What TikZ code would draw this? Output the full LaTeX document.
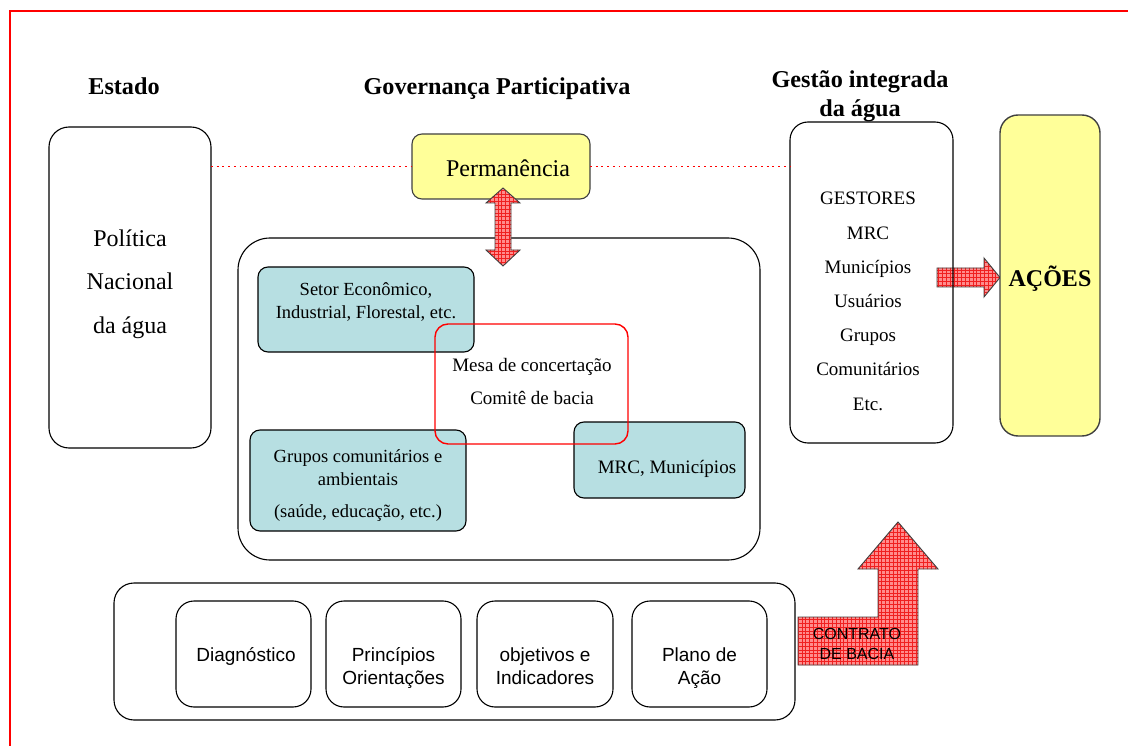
\documentclass[tikz,border=0pt]{standalone}
\usepackage{fontspec}
\setmainfont{Liberation Serif}
\setsansfont{Liberation Sans}
\definecolor{paleyellow}{HTML}{FFFF99}
\definecolor{palecyan}{HTML}{B7DFE2}
\definecolor{arrowpink}{HTML}{FF8C8C}
\definecolor{gridred}{HTML}{F02020}
\definecolor{edgegray}{HTML}{404040}

% block arrow filled with a fine red check pattern
\newcommand{\checkedshape}[1]{%
  \begin{scope}
    \clip #1;
    \fill[arrowpink] #1;
    \draw[gridred, line width=0.3pt, step=3.8pt] (0,0) grid (1128,746);
  \end{scope}
  \draw[edgegray, line width=0.9pt, line join=miter] #1;}

\begin{document}
\begin{tikzpicture}[x=1pt, y=-1pt,
  every node/.style={inner sep=0pt, outer sep=0pt},
  panel/.style={draw=black, line width=1.1pt, rounded corners=#1},
  panel/.default=10pt,
  yellowpanel/.style={panel=#1, fill=paleyellow, draw=edgegray},
  yellowpanel/.default=10pt,
  cyanpanel/.style={panel=10pt, fill=palecyan},
  headfont/.style={font=\fontsize{24.2}{29}\selectfont\bfseries, anchor=base, align=center},
  bodyfont/.style={font=\fontsize{#1}{#1}\selectfont, anchor=base, align=center},
  sansfont/.style={font=\sffamily\fontsize{19}{23}\selectfont, anchor=base, align=center},
  linkdots/.style={red, line width=1.9pt, dash pattern=on 1.9pt off 3.8pt}]

\useasboundingbox (0,0) rectangle (1128,746);

% page frame
\draw[red, line width=2.6pt] (10,746) -- (10,11) -- (1128,11);

% column headings (multi-line nodes are placed by the baseline of their last line)
\node[headfont] (estadohead) at (124,95) {Estado};
\node[headfont] (govhead) at (497,95) {Governança Participativa};
\node[headfont] (gesthead) at (860,117) {Gestão integrada\\da água};

% state policy
\node[panel=20pt, minimum width=162pt, minimum height=321pt] (estado) at (130,287.5) {};
\node[font=\fontsize{24}{44}\selectfont, anchor=base, align=center] (estadotxt) at (130,334)
  {Política\\Nacional\\da água};

% permanence
\node[yellowpanel=10pt, minimum width=178pt, minimum height=65pt] (perm) at (501,166.5) {};
\node[bodyfont=24] (permtxt) at (508,177) {Permanência};

% participative governance panel
\node[panel=32pt, minimum width=522pt, minimum height=322pt] (mid) at (499,399) {};
\node[cyanpanel, minimum width=216pt, minimum height=85pt] (setor) at (366,309.5) {};
\node[cyanpanel, minimum width=216pt, minimum height=101pt] (grupos) at (358,480.5) {};
\node[cyanpanel, minimum width=171pt, minimum height=76pt] (mrc) at (659.5,460) {};
\node[draw=red, line width=1.4pt, rounded corners=13pt, minimum width=193pt, minimum height=120pt] (mesa) at (531.5,384) {};

\node[font=\fontsize{18.5}{23}\selectfont, anchor=base, align=center] (setortxt) at (366,319)
  {Setor Econômico,\\Industrial, Florestal, etc.};
\node[font=\fontsize{18.5}{23}\selectfont, anchor=base, align=center] (grupostxt) at (358,517)
  {Grupos comunitários e\\ambientais\\[9pt](saúde, educação, etc.)};
\node[bodyfont=19] (mrctxt) at (667,473) {MRC, Municípios};
\node[font=\fontsize{19}{33}\selectfont, anchor=base, align=center] (mesatxt) at (532,404)
  {Mesa de concertação\\Comitê de bacia};

% integrated management
\checkedshape{(937,268) -- (984,268) -- (984,258) -- (1000,277.5) -- (984,297) -- (984,287) -- (937,287) -- cycle}
\node[panel=18pt, minimum width=163pt, minimum height=321pt] (gest) at (871.5,282.5) {};
\node[font=\fontsize{19}{34.2}\selectfont, anchor=base, align=center] (gesttxt) at (868,410)
  {GESTORES\\MRC\\Municípios\\Usuários\\Grupos\\Comunitários\\Etc.};

% actions
\node[yellowpanel=18pt, minimum width=100pt, minimum height=321pt, line width=1.4pt] (acoes) at (1050,275.5) {};
\node[font=\fontsize{24}{24}\selectfont\bfseries, anchor=base] (acoestxt) at (1050,287) {AÇÕES};

% dotted links
\draw[linkdots] (estado.east |- perm.west) -- (perm.west);
\draw[linkdots] (perm.east) -- (perm.east -| gest.west);

% two-way arrow between permanence and the governance panel
\checkedshape{(495,203) -- (486,203) -- (503,188) -- (520,203) -- (511,203) -- (511,250) -- (520,250) -- (503,266) -- (486,250) -- (495,250) -- cycle}

% planning steps
\node[panel=20pt, minimum width=681pt, minimum height=137pt] (base) at (454.5,651.5) {};
\node[panel=18pt, minimum width=135pt, minimum height=106pt] (diag) at (243.5,654) {};
\node[panel=18pt, minimum width=135pt, minimum height=106pt] (princ) at (393.5,654) {};
\node[panel=18pt, minimum width=136pt, minimum height=106pt] (obj) at (545,654) {};
\node[panel=18pt, minimum width=135pt, minimum height=106pt] (plano) at (699.5,654) {};
\node[sansfont] (diagtxt) at (246,661) {Diagnóstico};
\node[sansfont] (princtxt) at (princ |- 0,684) {Princípios\\Orientações};
\node[sansfont] (objtxt) at (obj |- 0,684) {objetivos e\\Indicadores};
\node[sansfont] (planotxt) at (plano |- 0,684) {Plano de\\Ação};

% basin contract arrow
\checkedshape{(798,617) -- (878,617) -- (878,569) -- (858,569) -- (898,522) -- (938,569) -- (918,569) -- (918,665) -- (798,665) -- cycle}
\node[font=\sffamily\fontsize{16}{20}\selectfont, anchor=base, align=center] (contrato) at (857,659)
  {CONTRATO\\DE BACIA};

\end{tikzpicture}
\end{document}
